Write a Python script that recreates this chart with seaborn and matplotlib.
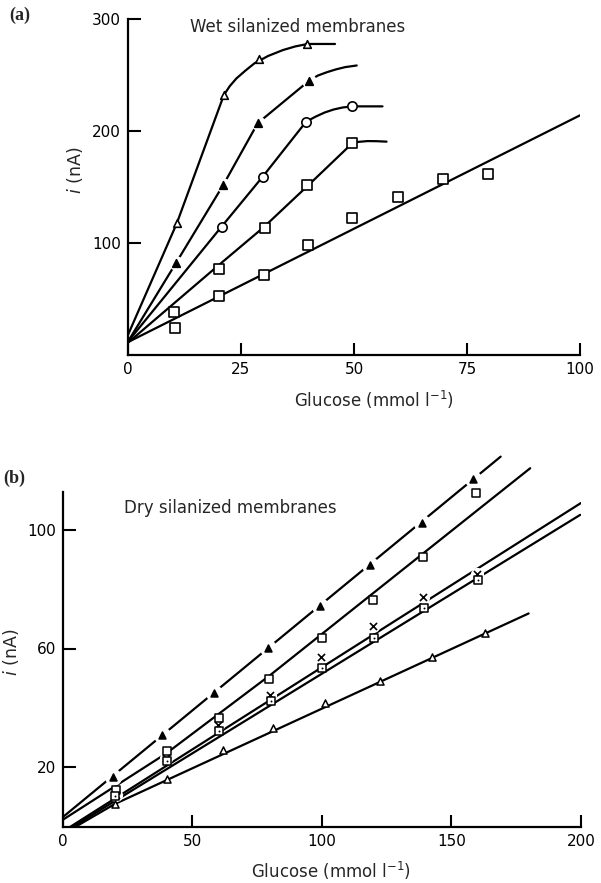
import numpy as np
import pandas as pd
import matplotlib
matplotlib.use("Agg")
import matplotlib.pyplot as plt
import seaborn as sns

# ---------------- data: panel (a) wet silanized membranes ----------------
a_otri_x = [10.8, 21.2, 29.0, 39.7]
a_otri_y = [117.6, 232.0, 264.0, 277.7]
a_otri_line_x = [0, 10.8, 21.2, 22.5, 24.0, 26.0, 28.0, 31.0, 34.3, 37.0, 39.7, 45.8]
a_otri_line_y = [18, 117.6, 232.0, 240.0, 247.0, 254.0, 260.5, 267.0, 272.3, 275.5, 277.7, 277.7]

a_ftri_x = [10.6, 21.1, 28.7, 40.1]
a_ftri_y = [82.0, 152.0, 207.0, 245.0]
a_ftri_line_x = [0, 10.6, 21.1, 28.7, 34.4, 40.1, 42.0, 44.0, 46.0, 48.0, 50.6]
a_ftri_line_y = [12, 82.0, 152.0, 207.0, 226.0, 245.0, 249.5, 252.5, 255.0, 257.0, 258.5]

a_circ_x = [20.7, 29.8, 39.4, 49.6]
a_circ_y = [114.6, 159.2, 208.3, 222.0]
a_circ_line_x = [0, 20.7, 29.8, 39.4, 41.5, 43.5, 45.5, 47.5, 49.6, 56.3]
a_circ_line_y = [12, 114.6, 159.2, 208.3, 212.8, 216.5, 219.2, 221.0, 222.0, 222.0]

a_sq1_x = [10.2, 20.1, 30.2, 39.7, 49.6]
a_sq1_y = [38.1, 76.5, 113.7, 152.0, 189.5]
a_sq1_line_x = [0, 20.0, 30.0, 40.0, 49.6, 51.0, 53.0, 55.0, 57.2]
a_sq1_line_y = [11, 80.0, 114.0, 152.0, 189.0, 190.3, 191.0, 190.9, 190.5]

a_sq2_x = [10.3, 20.2, 30.1, 39.8, 49.6, 59.8, 69.6, 79.6]
a_sq2_y = [23.8, 53.0, 71.4, 98.2, 122.0, 141.4, 157.5, 162.0]
a_sq2_line_x = [0, 100]
a_sq2_line_y = [11.5, 214.0]

a_xticks = [0, 25, 50, 75, 100]
a_xticklabels = ["0", "25", "50", "75", "100"]
a_yticks = [100, 200, 300]
a_yticklabels = ["100", "200", "300"]

# ---------------- data: panel (b) dry silanized membranes ----------------
b_ftri_x = [19.3, 38.5, 58.2, 79.4, 99.3, 118.7, 138.6, 158.5]
b_ftri_y = [16.8, 30.9, 45.1, 60.1, 74.3, 88.1, 102.1, 117.0]
b_ftri_line_x = [0, 169.0]
b_ftri_line_y = [3.2, 124.6]

b_osq_x = [20.6, 40.1, 60.5, 79.7, 100.0, 119.7, 139.2, 159.6]
b_osq_y = [12.4, 25.6, 36.7, 49.6, 63.6, 76.3, 90.7, 112.2]
b_osq_line_x = [0, 40.0, 80.0, 180.4]
b_osq_line_y = [2.3, 24.7, 51.0, 120.7]

b_x_x = [20.6, 40.0, 60.1, 79.8, 99.7, 119.7, 139.2, 159.8]
b_x_y = [10.7, 23.0, 34.2, 44.3, 57.0, 67.7, 77.4, 85.1]
b_x_line_x = [3.0, 200.0]
b_x_line_y = [0.0, 109.0]

b_dsq_x = [20.2, 40.2, 60.5, 80.4, 100.0, 120.2, 139.6, 160.2]
b_dsq_y = [10.4, 22.1, 32.2, 42.4, 53.3, 63.6, 73.7, 83.1]
b_dsq_line_x = [4.0, 199.7]
b_dsq_line_y = [0.0, 105.0]

b_otri_x = [20.2, 40.2, 61.8, 81.3, 101.3, 122.5, 142.5, 163.0]
b_otri_y = [7.6, 16.1, 25.8, 33.3, 41.8, 49.2, 57.2, 65.3]
b_otri_line_x = [5.0, 20.0, 179.8]
b_otri_line_y = [0.0, 7.6, 71.8]

b_xticks = [0, 50, 100, 150, 200]
b_xticklabels = ["0", "50", "100", "150", "200"]
b_yticks = [20, 60, 100]
b_yticklabels = ["20", "60", "100"]

# ---------------- style ----------------
sns.set_theme(style="ticks")
plt.rcParams['font.family'] = ['DejaVu Sans']
plt.rcParams['mathtext.fontset'] = 'dejavusans'

W, H = 601, 883
fig = plt.figure(figsize=(W / 100, H / 100), dpi=100)
fig.patch.set_facecolor("white")

LW = 1.6


def line(ax, xs, ys):
    df = pd.DataFrame({"x": xs, "y": ys})
    sns.lineplot(data=df, x="x", y="y", ax=ax, sort=False, estimator=None,
                 color="black", lw=LW, zorder=2)


def pts(ax, xs, ys, marker, s, face, edge="black", lw=1.2, z=4):
    df = pd.DataFrame({"x": xs, "y": ys})
    sns.scatterplot(data=df, x="x", y="y", ax=ax, marker=marker, s=s,
                    facecolor=face, edgecolor=edge, linewidth=lw,
                    zorder=z, clip_on=False, legend=False)


def halo(ax, xs, ys, s):
    df = pd.DataFrame({"x": xs, "y": ys})
    sns.scatterplot(data=df, x="x", y="y", ax=ax, marker="o", s=s,
                    color="white", linewidth=0, zorder=3, clip_on=False,
                    legend=False)


def style_axes(ax):
    for side in ["top", "right"]:
        ax.spines[side].set_visible(False)
    for side in ["left", "bottom"]:
        ax.spines[side].set_linewidth(1.6)
        ax.spines[side].set_color("black")
    ax.tick_params(direction="in", length=9, width=1.5, labelsize=11,
                   pad=5, colors="black")
    ax.set_xlabel("")
    ax.set_ylabel("")
    ax.set_facecolor("white")


# ---------------- panel (a) ----------------
axa = fig.add_axes([128 / W, 1 - 355 / H, 452 / W, 336 / H])
line(axa, a_otri_line_x, a_otri_line_y)
line(axa, a_ftri_line_x, a_ftri_line_y)
line(axa, a_circ_line_x, a_circ_line_y)
line(axa, a_sq1_line_x, a_sq1_line_y)
line(axa, a_sq2_line_x, a_sq2_line_y)

pts(axa, a_otri_x, a_otri_y, "^", 30, "white")
halo(axa, a_ftri_x, a_ftri_y, 110)
pts(axa, a_ftri_x, a_ftri_y, "^", 30, "black")
pts(axa, a_circ_x, a_circ_y, "o", 45, "white")
pts(axa, a_sq1_x, a_sq1_y, "s", 42, "white")
pts(axa, a_sq2_x, a_sq2_y, "s", 42, "white")

axa.set_xlim(0, 100)
axa.set_ylim(0, 300)
axa.set_xticks(a_xticks)
axa.set_xticklabels(a_xticklabels)
axa.set_yticks(a_yticks)
axa.set_yticklabels(a_yticklabels)
style_axes(axa)

# ---------------- panel (b) ----------------
axb = fig.add_axes([62.7 / W, 1 - 826.7 / H, 518.3 / W, 126 * 2.97 / H])
line(axb, b_ftri_line_x, b_ftri_line_y)
line(axb, b_osq_line_x, b_osq_line_y)
line(axb, b_x_line_x, b_x_line_y)
line(axb, b_dsq_line_x, b_dsq_line_y)
line(axb, b_otri_line_x, b_otri_line_y)

halo(axb, b_ftri_x, b_ftri_y, 150)
pts(axb, b_ftri_x, b_ftri_y, "^", 24, "black")
pts(axb, b_osq_x, b_osq_y, "s", 30, "white", lw=1.1)
halo(axb, b_x_x, b_x_y, 90)
pts(axb, b_x_x, b_x_y, "x", 26, "black", lw=1.2)
pts(axb, b_dsq_x, b_dsq_y, "s", 28, "white", lw=1.1)
pts(axb, b_dsq_x, b_dsq_y, "o", 2, "black", lw=0, z=5)
pts(axb, b_otri_x, b_otri_y, "^", 26, "white", lw=1.1)

axb.set_xlim(0, 200)
axb.set_ylim(0, 126)
axb.spines["left"].set_bounds(0, 112.8)
axb.set_xticks(b_xticks)
axb.set_xticklabels(b_xticklabels)
axb.set_yticks(b_yticks)
axb.set_yticklabels(b_yticklabels)
style_axes(axb)

# ---------------- texts ----------------
def ftext(x, y, s, **kw):
    fig.text(x / W, 1 - y / H, s, ha="center", va="center", **kw)

ftext(20, 15, "(a)", fontsize=13, fontweight="bold", family="Liberation Serif")
ftext(14, 478, "(b)", fontsize=13, fontweight="bold", family="Liberation Serif")
ftext(298, 27, "Wet silanized membranes", fontsize=12)
ftext(230, 508, "Dry silanized membranes", fontsize=12)
ftext(75, 170, r"$i$ (nA)", fontsize=12.5, rotation=90)
ftext(11, 652, r"$i$ (nA)", fontsize=12.5, rotation=90)
ftext(374, 400, r"Glucose (mmol l$^{-1}$)", fontsize=12)
ftext(331, 871, r"Glucose (mmol l$^{-1}$)", fontsize=12)

fig.savefig("out.png", dpi=100, facecolor="white")
